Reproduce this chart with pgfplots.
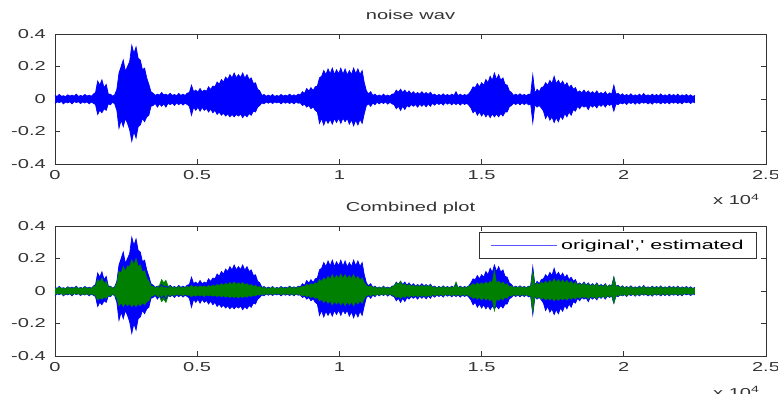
\documentclass[border=0pt]{standalone}
\usepackage{pgfplots}
\pgfplotsset{compat=1.18}
\usepackage{pgfplotstable}
\usepgfplotslibrary{fillbetween}
\usepackage{fontspec}
\setmainfont{Liberation Sans}[FakeStretch=1.55,Ligatures=TeXOff]
\definecolor{mblue}{rgb}{0,0,1}
\definecolor{legblue}{rgb}{0.35,0.35,1}
\definecolor{mgreen}{rgb}{0,0.5,0}
\definecolor{axgray}{gray}{0.2}

% envelope of the original (noisy) waveform: x, upper, lower
\pgfplotstableread{
x u l
0 0.022 -0.028
75 0.016 -0.018
150 0.028 -0.022
225 0.017 -0.016
300 0.020 -0.030
375 0.015 -0.018
450 0.026 -0.024
525 0.018 -0.017
600 0.024 -0.030
675 0.017 -0.016
750 0.030 -0.022
825 0.016 -0.017
900 0.022 -0.028
975 0.017 -0.018
1050 0.028 -0.025
1125 0.018 -0.017
1200 0.024 -0.030
1275 0.017 -0.019
1350 0.030 -0.026
1425 0.040 -0.035
1500 0.110 -0.095
1575 0.085 -0.070
1650 0.118 -0.085
1725 0.070 -0.060
1800 0.090 -0.070
1875 0.030 -0.030
1950 0.030 -0.035
2025 0.018 -0.020
2100 0.026 -0.030
2175 0.060 -0.070
2250 0.160 -0.180
2325 0.200 -0.130
2400 0.240 -0.170
2475 0.170 -0.120
2550 0.200 -0.150
2625 0.230 -0.190
2700 0.330 -0.260
2775 0.280 -0.200
2850 0.320 -0.240
2925 0.250 -0.170
3000 0.240 -0.160
3075 0.180 -0.120
3150 0.190 -0.140
3225 0.130 -0.110
3300 0.090 -0.100
3375 0.045 -0.045
3450 0.035 -0.040
3525 0.022 -0.028
3600 0.030 -0.050
3675 0.024 -0.030
3750 0.040 -0.045
3825 0.025 -0.030
3900 0.030 -0.050
3975 0.022 -0.026
4050 0.035 -0.035
4125 0.022 -0.025
4200 0.028 -0.040
4275 0.020 -0.024
4350 0.034 -0.035
4425 0.022 -0.025
4500 0.030 -0.038
4575 0.022 -0.026
4650 0.036 -0.034
4725 0.040 -0.045
4800 0.085 -0.100
4875 0.045 -0.050
4950 0.055 -0.070
5025 0.042 -0.050
5100 0.065 -0.075
5175 0.044 -0.052
5250 0.055 -0.070
5325 0.048 -0.058
5400 0.075 -0.080
5475 0.058 -0.062
5550 0.080 -0.085
5625 0.075 -0.070
5700 0.105 -0.095
5775 0.090 -0.080
5850 0.120 -0.100
5925 0.105 -0.088
6000 0.135 -0.105
6075 0.120 -0.092
6150 0.150 -0.110
6225 0.130 -0.095
6300 0.160 -0.110
6375 0.130 -0.095
6450 0.150 -0.105
6525 0.132 -0.092
6600 0.160 -0.115
6675 0.128 -0.096
6750 0.150 -0.110
6825 0.120 -0.090
6900 0.130 -0.100
6975 0.095 -0.075
7050 0.100 -0.080
7125 0.060 -0.050
7200 0.050 -0.040
7275 0.022 -0.024
7350 0.028 -0.030
7425 0.017 -0.018
7500 0.024 -0.026
7575 0.017 -0.018
7650 0.028 -0.028
7725 0.016 -0.018
7800 0.022 -0.024
7875 0.017 -0.019
7950 0.028 -0.030
8025 0.018 -0.018
8100 0.024 -0.026
8175 0.018 -0.019
8250 0.030 -0.028
8325 0.018 -0.019
8400 0.026 -0.030
8475 0.018 -0.018
8550 0.030 -0.026
8625 0.025 -0.024
8700 0.045 -0.040
8775 0.035 -0.032
8850 0.065 -0.050
8925 0.048 -0.040
9000 0.070 -0.060
9075 0.052 -0.048
9150 0.075 -0.070
9225 0.080 -0.080
9300 0.130 -0.150
9375 0.140 -0.120
9450 0.175 -0.160
9525 0.150 -0.125
9600 0.185 -0.150
9675 0.155 -0.125
9750 0.190 -0.155
9825 0.150 -0.120
9900 0.180 -0.145
9975 0.155 -0.118
10050 0.190 -0.150
10125 0.152 -0.118
10200 0.185 -0.140
10275 0.148 -0.120
10350 0.175 -0.155
10425 0.150 -0.128
10500 0.190 -0.165
10575 0.155 -0.130
10650 0.185 -0.160
10725 0.150 -0.125
10800 0.175 -0.150
10875 0.100 -0.090
10950 0.050 -0.040
11025 0.032 -0.030
11100 0.045 -0.045
11175 0.022 -0.025
11250 0.030 -0.035
11325 0.018 -0.020
11400 0.025 -0.030
11475 0.017 -0.019
11550 0.030 -0.028
11625 0.018 -0.018
11700 0.024 -0.032
11775 0.018 -0.020
11850 0.030 -0.030
11925 0.032 -0.035
12000 0.055 -0.060
12075 0.042 -0.045
12150 0.060 -0.070
12225 0.040 -0.045
12300 0.055 -0.065
12375 0.036 -0.040
12450 0.050 -0.050
12525 0.032 -0.034
12600 0.045 -0.045
12675 0.030 -0.034
12750 0.040 -0.050
12825 0.030 -0.032
12900 0.045 -0.045
12975 0.030 -0.032
13050 0.040 -0.048
13125 0.028 -0.030
13200 0.042 -0.045
13275 0.024 -0.026
13350 0.030 -0.038
13425 0.020 -0.024
13500 0.028 -0.034
13575 0.020 -0.024
13650 0.032 -0.038
13725 0.020 -0.022
13800 0.028 -0.032
13875 0.020 -0.024
13950 0.030 -0.036
14025 0.022 -0.024
14100 0.045 -0.034
14175 0.020 -0.024
14250 0.030 -0.038
14325 0.020 -0.024
14400 0.028 -0.034
14475 0.022 -0.026
14550 0.032 -0.038
14625 0.050 -0.055
14700 0.075 -0.085
14775 0.070 -0.070
14850 0.095 -0.100
14925 0.075 -0.080
15000 0.100 -0.105
15075 0.085 -0.085
15150 0.120 -0.110
15225 0.100 -0.090
15300 0.140 -0.115
15375 0.115 -0.092
15450 0.160 -0.110
15525 0.120 -0.092
15600 0.150 -0.110
15675 0.115 -0.090
15750 0.130 -0.105
15825 0.090 -0.080
15900 0.085 -0.080
15975 0.050 -0.048
16050 0.040 -0.040
16125 0.022 -0.025
16200 0.030 -0.034
16275 0.022 -0.024
16350 0.032 -0.036
16425 0.022 -0.024
16500 0.028 -0.034
16575 0.020 -0.024
16650 0.030 -0.036
16725 0.030 -0.030
16800 0.148 -0.145
16875 0.035 -0.035
16950 0.060 -0.050
17025 0.045 -0.040
17100 0.070 -0.055
17175 0.075 -0.075
17250 0.100 -0.120
17325 0.085 -0.095
17400 0.115 -0.130
17475 0.095 -0.110
17550 0.140 -0.145
17625 0.095 -0.115
17700 0.115 -0.140
17775 0.090 -0.105
17850 0.110 -0.125
17925 0.082 -0.090
18000 0.100 -0.110
18075 0.070 -0.080
18150 0.085 -0.100
18225 0.060 -0.065
18300 0.070 -0.075
18375 0.040 -0.045
18450 0.050 -0.060
18525 0.038 -0.040
18600 0.055 -0.050
18675 0.036 -0.042
18750 0.050 -0.065
18825 0.034 -0.038
18900 0.045 -0.050
18975 0.032 -0.038
19050 0.050 -0.055
19125 0.030 -0.034
19200 0.040 -0.045
19275 0.030 -0.032
19350 0.045 -0.050
19425 0.026 -0.030
19500 0.038 -0.040
19575 0.030 -0.030
19650 0.085 -0.075
19725 0.030 -0.030
19800 0.035 -0.035
19875 0.022 -0.024
19950 0.032 -0.030
20025 0.020 -0.022
20100 0.028 -0.034
20175 0.019 -0.021
20250 0.032 -0.028
20325 0.018 -0.020
20400 0.026 -0.032
20475 0.019 -0.020
20550 0.030 -0.030
20625 0.018 -0.019
20700 0.034 -0.026
20775 0.019 -0.020
20850 0.026 -0.030
20925 0.018 -0.021
21000 0.030 -0.032
21075 0.019 -0.019
21150 0.028 -0.026
21225 0.018 -0.020
21300 0.032 -0.030
21375 0.018 -0.019
21450 0.026 -0.028
21525 0.018 -0.019
21600 0.030 -0.030
21675 0.019 -0.018
21750 0.028 -0.026
21825 0.018 -0.019
21900 0.030 -0.028
21975 0.017 -0.020
22050 0.026 -0.030
22125 0.018 -0.017
22200 0.028 -0.024
22275 0.017 -0.018
22350 0.026 -0.028
22425 0.016 -0.017
22500 0.022 -0.024
}\origtab

% envelope of the estimated waveform: x, upper, lower
\pgfplotstableread{
x u l
0 0.020 -0.024
75 0.014 -0.015
150 0.024 -0.020
225 0.015 -0.014
300 0.018 -0.026
375 0.013 -0.016
450 0.024 -0.020
525 0.015 -0.015
600 0.020 -0.026
675 0.014 -0.014
750 0.026 -0.020
825 0.014 -0.015
900 0.020 -0.024
975 0.015 -0.016
1050 0.024 -0.022
1125 0.015 -0.015
1200 0.020 -0.026
1275 0.015 -0.016
1350 0.026 -0.022
1425 0.030 -0.028
1500 0.070 -0.055
1575 0.055 -0.042
1650 0.080 -0.050
1725 0.045 -0.036
1800 0.060 -0.045
1875 0.024 -0.026
1950 0.026 -0.030
2025 0.016 -0.018
2100 0.022 -0.026
2175 0.050 -0.045
2250 0.120 -0.090
2325 0.110 -0.072
2400 0.150 -0.095
2475 0.120 -0.075
2550 0.155 -0.090
2625 0.150 -0.078
2700 0.190 -0.095
2775 0.160 -0.080
2850 0.200 -0.095
2925 0.150 -0.078
3000 0.160 -0.090
3075 0.115 -0.072
3150 0.125 -0.085
3225 0.080 -0.066
3300 0.060 -0.060
3375 0.030 -0.032
3450 0.028 -0.030
3525 0.018 -0.020
3600 0.025 -0.032
3675 0.035 -0.035
3750 0.070 -0.065
3825 0.050 -0.050
3900 0.065 -0.070
3975 0.030 -0.032
4050 0.028 -0.030
4125 0.018 -0.020
4200 0.024 -0.030
4275 0.017 -0.019
4350 0.028 -0.026
4425 0.018 -0.019
4500 0.024 -0.030
4575 0.018 -0.019
4650 0.028 -0.026
4725 0.022 -0.024
4800 0.035 -0.035
4875 0.022 -0.024
4950 0.030 -0.032
5025 0.022 -0.023
5100 0.032 -0.030
5175 0.023 -0.024
5250 0.030 -0.034
5325 0.023 -0.023
5400 0.034 -0.030
5475 0.025 -0.024
5550 0.036 -0.032
5625 0.028 -0.025
5700 0.040 -0.034
5775 0.032 -0.027
5850 0.045 -0.036
5925 0.035 -0.028
6000 0.048 -0.038
6075 0.038 -0.030
6150 0.052 -0.040
6225 0.040 -0.031
6300 0.055 -0.040
6375 0.040 -0.032
6450 0.050 -0.042
6525 0.040 -0.031
6600 0.052 -0.040
6675 0.036 -0.030
6750 0.045 -0.038
6825 0.032 -0.027
6900 0.040 -0.034
6975 0.027 -0.024
7050 0.034 -0.030
7125 0.022 -0.020
7200 0.028 -0.026
7275 0.017 -0.018
7350 0.024 -0.024
7425 0.015 -0.016
7500 0.020 -0.022
7575 0.015 -0.015
7650 0.024 -0.022
7725 0.014 -0.015
7800 0.020 -0.020
7875 0.015 -0.016
7950 0.024 -0.024
8025 0.015 -0.016
8100 0.020 -0.022
8175 0.016 -0.015
8250 0.026 -0.022
8325 0.016 -0.017
8400 0.022 -0.026
8475 0.016 -0.016
8550 0.026 -0.022
8625 0.020 -0.020
8700 0.030 -0.030
8775 0.026 -0.024
8850 0.040 -0.034
8925 0.032 -0.028
9000 0.045 -0.040
9075 0.036 -0.032
9150 0.050 -0.045
9225 0.045 -0.040
9300 0.070 -0.060
9375 0.056 -0.050
9450 0.080 -0.070
9525 0.065 -0.056
9600 0.090 -0.075
9675 0.072 -0.060
9750 0.100 -0.085
9825 0.075 -0.064
9900 0.095 -0.080
9975 0.076 -0.064
10050 0.105 -0.085
10125 0.078 -0.066
10200 0.100 -0.090
10275 0.076 -0.066
10350 0.095 -0.085
10425 0.074 -0.066
10500 0.100 -0.090
10575 0.072 -0.064
10650 0.090 -0.080
10725 0.066 -0.060
10800 0.080 -0.075
10875 0.050 -0.045
10950 0.035 -0.030
11025 0.024 -0.022
11100 0.032 -0.032
11175 0.019 -0.020
11250 0.026 -0.028
11325 0.016 -0.018
11400 0.022 -0.026
11475 0.016 -0.017
11550 0.026 -0.024
11625 0.015 -0.017
11700 0.020 -0.026
11775 0.018 -0.018
11850 0.026 -0.024
11925 0.030 -0.028
12000 0.050 -0.040
12075 0.040 -0.032
12150 0.060 -0.045
12225 0.034 -0.030
12300 0.045 -0.040
12375 0.030 -0.028
12450 0.040 -0.038
12525 0.027 -0.026
12600 0.036 -0.034
12675 0.025 -0.025
12750 0.034 -0.036
12825 0.025 -0.025
12900 0.036 -0.034
12975 0.025 -0.025
13050 0.034 -0.036
13125 0.025 -0.025
13200 0.036 -0.034
13275 0.020 -0.021
13350 0.026 -0.030
13425 0.018 -0.020
13500 0.024 -0.028
13575 0.018 -0.020
13650 0.028 -0.030
13725 0.018 -0.019
13800 0.024 -0.026
13875 0.018 -0.020
13950 0.026 -0.030
14025 0.020 -0.020
14100 0.055 -0.028
14175 0.018 -0.020
14250 0.026 -0.030
14325 0.018 -0.020
14400 0.024 -0.028
14475 0.019 -0.021
14550 0.028 -0.030
14625 0.034 -0.034
14700 0.045 -0.045
14775 0.034 -0.036
14850 0.050 -0.050
14925 0.038 -0.038
15000 0.050 -0.055
15075 0.040 -0.040
15150 0.055 -0.055
15225 0.042 -0.044
15300 0.060 -0.060
15375 0.050 -0.050
15450 0.125 -0.120
15525 0.048 -0.046
15600 0.060 -0.058
15675 0.042 -0.042
15750 0.055 -0.055
15825 0.036 -0.036
15900 0.045 -0.045
15975 0.024 -0.025
16050 0.030 -0.032
16125 0.019 -0.021
16200 0.026 -0.028
16275 0.019 -0.021
16350 0.028 -0.030
16425 0.018 -0.020
16500 0.024 -0.028
16575 0.018 -0.020
16650 0.026 -0.030
16725 0.026 -0.028
16800 0.120 -0.130
16875 0.030 -0.030
16950 0.050 -0.045
17025 0.036 -0.034
17100 0.055 -0.050
17175 0.042 -0.040
17250 0.060 -0.055
17325 0.045 -0.042
17400 0.065 -0.055
17475 0.050 -0.044
17550 0.075 -0.060
17625 0.052 -0.045
17700 0.070 -0.058
17775 0.050 -0.043
17850 0.068 -0.055
17925 0.048 -0.042
18000 0.065 -0.055
18075 0.045 -0.040
18150 0.060 -0.050
18225 0.040 -0.038
18300 0.055 -0.050
18375 0.034 -0.034
18450 0.045 -0.045
18525 0.033 -0.032
18600 0.050 -0.042
18675 0.032 -0.034
18750 0.045 -0.050
18825 0.030 -0.032
18900 0.040 -0.042
18975 0.030 -0.034
19050 0.045 -0.048
19125 0.027 -0.030
19200 0.036 -0.040
19275 0.027 -0.030
19350 0.040 -0.042
19425 0.024 -0.027
19500 0.034 -0.036
19575 0.030 -0.030
19650 0.085 -0.075
19725 0.026 -0.026
19800 0.032 -0.032
19875 0.020 -0.021
19950 0.028 -0.028
20025 0.018 -0.020
20100 0.025 -0.030
20175 0.017 -0.018
20250 0.028 -0.024
20325 0.016 -0.018
20400 0.022 -0.028
20475 0.016 -0.018
20550 0.026 -0.026
20625 0.016 -0.016
20700 0.030 -0.022
20775 0.016 -0.017
20850 0.022 -0.026
20925 0.016 -0.018
21000 0.026 -0.028
21075 0.016 -0.016
21150 0.024 -0.022
21225 0.016 -0.017
21300 0.028 -0.026
21375 0.016 -0.016
21450 0.022 -0.024
21525 0.016 -0.016
21600 0.026 -0.026
21675 0.016 -0.016
21750 0.024 -0.022
21825 0.016 -0.016
21900 0.026 -0.024
21975 0.015 -0.017
22050 0.022 -0.026
22125 0.015 -0.015
22200 0.024 -0.020
22275 0.014 -0.015
22350 0.022 -0.024
22425 0.013 -0.014
22500 0.018 -0.020
}\esttab

\pgfplotsset{
  matlabaxis/.style={
    anchor=south west, scale only axis,
    width=711bp, height=130bp,
    xmin=0, xmax=25000, ymin=-0.4, ymax=0.4,
    clip=false,
    scaled x ticks=false, scaled y ticks=false,
    xtick={0,5000,10000,15000,20000,25000},
    xticklabels={0,0.5,1,1.5,2,2.5},
    ytick={-0.4,-0.2,0,0.2,0.4},
    yticklabels={-0.4,-0.2,0,0.2,0.4},
    tick align=inside, tick pos=both,
    major tick length=5bp,
    axis line style={axgray, line width=0.8pt},
    tick style={axgray, line width=0.8pt},
    tick label style={font=\fontsize{13}{15}\selectfont, text=axgray},
    xticklabel style={yshift=-2.7bp},
    yticklabel style={xshift=-5.7bp},
    title style={font=\fontsize{13}{15}\selectfont, text=axgray,
                 at={(0.5,1)}, anchor=base, yshift=9bp},
  },
}

\begin{document}
\begin{tikzpicture}

% ---------- top: noise wav ----------
\begin{axis}[matlabaxis, at={(55bp,230bp)}, title={noise wav}]
  \addplot[name path=tu, mblue, line width=0.7pt] table[x=x,y=u]{\origtab};
  \addplot[name path=tl, mblue, line width=0.7pt] table[x=x,y=l]{\origtab};
  \addplot[mblue, fill=mblue] fill between[of=tu and tl];
  \node[anchor=base east, font=\fontsize{13}{15}\selectfont, text=axgray]
     at (rel axis cs:1,0) [xshift=-3bp, yshift=-41bp] {x 10\textsuperscript{4}};
\end{axis}

% ---------- bottom: combined plot ----------
\begin{axis}[matlabaxis, at={(55bp,38bp)}, title={Combined plot},
    legend style={at={(1,1)}, anchor=north east, xshift=-9bp, yshift=-6bp,
      draw=axgray, line width=0.8pt, fill=white,
      font=\fontsize{13}{15}\selectfont, inner xsep=11bp, inner ysep=5.5bp,
      column sep=2bp, nodes={inner sep=2bp}},
    legend cell align=left,
    legend image code/.code={\draw[#1] (0bp,0bp) -- (66bp,0bp);}]
  \addplot[name path=bu, mblue, line width=0.7pt, forget plot] table[x=x,y=u]{\origtab};
  \addplot[name path=bl, mblue, line width=0.7pt, forget plot] table[x=x,y=l]{\origtab};
  \addplot[mblue, fill=mblue, forget plot] fill between[of=bu and bl];
  \addplot[name path=gu, mgreen, line width=0.7pt, forget plot] table[x=x,y=u]{\esttab};
  \addplot[name path=gl, mgreen, line width=0.7pt, forget plot] table[x=x,y=l]{\esttab};
  \addplot[mgreen, fill=mgreen, forget plot] fill between[of=gu and gl];
  \addlegendimage{draw=legblue, line width=1pt}
  \addlegendentry{\scalebox{1.07}[1]{original',' estimated}}
  \node[anchor=base east, font=\fontsize{13}{15}\selectfont, text=axgray]
     at (rel axis cs:1,0) [xshift=-3bp, yshift=-41bp] {x 10\textsuperscript{4}};
\end{axis}

\pgfresetboundingbox
\path[use as bounding box] (0bp,0bp) rectangle (778bp,394bp);
\end{tikzpicture}
\end{document}
